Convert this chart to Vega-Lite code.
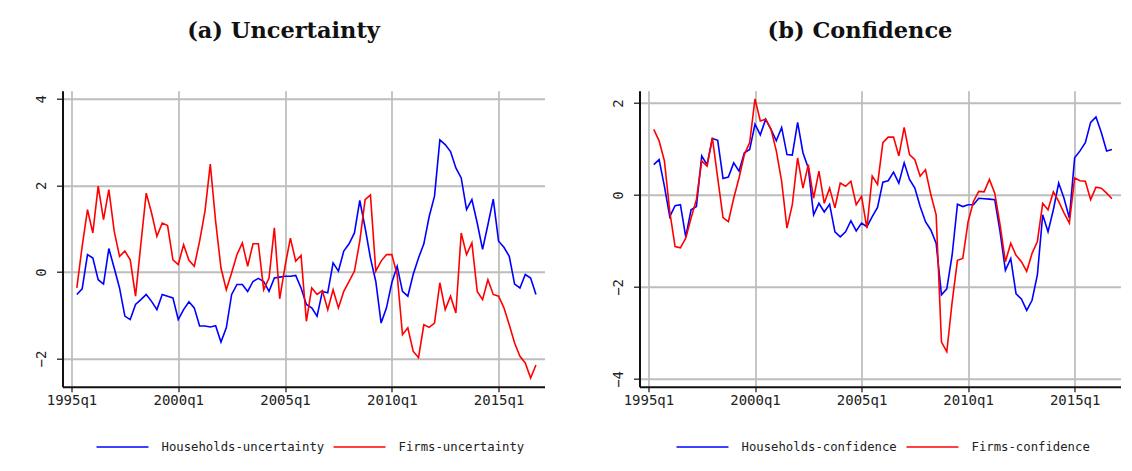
{
  "$schema": "https://vega.github.io/schema/vega-lite/v6.json",
  "background": "white",
  "padding": {"left": 34.5, "top": 18.7, "right": 0, "bottom": 0},
  "data": {"values": [
    {"t": 1995.25, "Households-uncertainty": -0.52, "Firms-uncertainty": -0.37, "Households-confidence": 0.66, "Firms-confidence": 1.43},
    {"t": 1995.5, "Households-uncertainty": -0.39, "Firms-uncertainty": 0.59, "Households-confidence": 0.77, "Firms-confidence": 1.18},
    {"t": 1995.75, "Households-uncertainty": 0.4, "Firms-uncertainty": 1.44, "Households-confidence": 0.19, "Firms-confidence": 0.74},
    {"t": 1996, "Households-uncertainty": 0.32, "Firms-uncertainty": 0.9, "Households-confidence": -0.47, "Firms-confidence": -0.36},
    {"t": 1996.25, "Households-uncertainty": -0.18, "Firms-uncertainty": 1.98, "Households-confidence": -0.23, "Firms-confidence": -1.12},
    {"t": 1996.5, "Households-uncertainty": -0.28, "Firms-uncertainty": 1.21, "Households-confidence": -0.21, "Firms-confidence": -1.15},
    {"t": 1996.75, "Households-uncertainty": 0.54, "Firms-uncertainty": 1.9, "Households-confidence": -0.91, "Firms-confidence": -0.94},
    {"t": 1997, "Households-uncertainty": 0.09, "Firms-uncertainty": 0.94, "Households-confidence": -0.32, "Firms-confidence": -0.5},
    {"t": 1997.25, "Households-uncertainty": -0.37, "Firms-uncertainty": 0.36, "Households-confidence": -0.25, "Firms-confidence": -0.1},
    {"t": 1997.5, "Households-uncertainty": -1.02, "Firms-uncertainty": 0.48, "Households-confidence": 0.85, "Firms-confidence": 0.74},
    {"t": 1997.75, "Households-uncertainty": -1.1, "Firms-uncertainty": 0.28, "Households-confidence": 0.66, "Firms-confidence": 0.63},
    {"t": 1998, "Households-uncertainty": -0.75, "Firms-uncertainty": -0.56, "Households-confidence": 1.23, "Firms-confidence": 1.25},
    {"t": 1998.25, "Households-uncertainty": -0.64, "Firms-uncertainty": 0.65, "Households-confidence": 1.19, "Firms-confidence": 0.37},
    {"t": 1998.5, "Households-uncertainty": -0.52, "Firms-uncertainty": 1.82, "Households-confidence": 0.36, "Firms-confidence": -0.49},
    {"t": 1998.75, "Households-uncertainty": -0.68, "Firms-uncertainty": 1.36, "Households-confidence": 0.39, "Firms-confidence": -0.58},
    {"t": 1999, "Households-uncertainty": -0.87, "Firms-uncertainty": 0.82, "Households-confidence": 0.7, "Firms-confidence": -0.07},
    {"t": 1999.25, "Households-uncertainty": -0.52, "Firms-uncertainty": 1.13, "Households-confidence": 0.52, "Firms-confidence": 0.37},
    {"t": 1999.5, "Households-uncertainty": -0.56, "Firms-uncertainty": 1.07, "Households-confidence": 0.92, "Firms-confidence": 0.88},
    {"t": 1999.75, "Households-uncertainty": -0.6, "Firms-uncertainty": 0.28, "Households-confidence": 0.99, "Firms-confidence": 1.14},
    {"t": 2000, "Households-uncertainty": -1.1, "Firms-uncertainty": 0.17, "Households-confidence": 1.54, "Firms-confidence": 2.09},
    {"t": 2000.25, "Households-uncertainty": -0.87, "Firms-uncertainty": 0.63, "Households-confidence": 1.31, "Firms-confidence": 1.61},
    {"t": 2000.5, "Households-uncertainty": -0.69, "Firms-uncertainty": 0.27, "Households-confidence": 1.65, "Firms-confidence": 1.65},
    {"t": 2000.75, "Households-uncertainty": -0.83, "Firms-uncertainty": 0.13, "Households-confidence": 1.43, "Firms-confidence": 1.43},
    {"t": 2001, "Households-uncertainty": -1.25, "Firms-uncertainty": 0.71, "Households-confidence": 1.18, "Firms-confidence": 0.96},
    {"t": 2001.25, "Households-uncertainty": -1.25, "Firms-uncertainty": 1.4, "Households-confidence": 1.47, "Firms-confidence": 0.3},
    {"t": 2001.5, "Households-uncertainty": -1.27, "Firms-uncertainty": 2.49, "Households-confidence": 0.88, "Firms-confidence": -0.72},
    {"t": 2001.75, "Households-uncertainty": -1.24, "Firms-uncertainty": 1.17, "Households-confidence": 0.87, "Firms-confidence": -0.21},
    {"t": 2002, "Households-uncertainty": -1.62, "Firms-uncertainty": 0.09, "Households-confidence": 1.58, "Firms-confidence": 0.81},
    {"t": 2002.25, "Households-uncertainty": -1.29, "Firms-uncertainty": -0.41, "Households-confidence": 0.92, "Firms-confidence": 0.15},
    {"t": 2002.5, "Households-uncertainty": -0.52, "Firms-uncertainty": -0.02, "Households-confidence": 0.59, "Firms-confidence": 0.66},
    {"t": 2002.75, "Households-uncertainty": -0.29, "Firms-uncertainty": 0.4, "Households-confidence": -0.43, "Firms-confidence": -0.07},
    {"t": 2003, "Households-uncertainty": -0.29, "Firms-uncertainty": 0.67, "Households-confidence": -0.18, "Firms-confidence": 0.52},
    {"t": 2003.25, "Households-uncertainty": -0.45, "Firms-uncertainty": 0.13, "Households-confidence": -0.37, "Firms-confidence": -0.18},
    {"t": 2003.5, "Households-uncertainty": -0.22, "Firms-uncertainty": 0.65, "Households-confidence": -0.2, "Firms-confidence": 0.15},
    {"t": 2003.75, "Households-uncertainty": -0.15, "Firms-uncertainty": 0.65, "Households-confidence": -0.8, "Firms-confidence": -0.28},
    {"t": 2004, "Households-uncertainty": -0.22, "Firms-uncertainty": -0.41, "Households-confidence": -0.91, "Firms-confidence": 0.26},
    {"t": 2004.25, "Households-uncertainty": -0.45, "Firms-uncertainty": -0.14, "Households-confidence": -0.8, "Firms-confidence": 0.19},
    {"t": 2004.5, "Households-uncertainty": -0.14, "Firms-uncertainty": 1.02, "Households-confidence": -0.56, "Firms-confidence": 0.3},
    {"t": 2004.75, "Households-uncertainty": -0.12, "Firms-uncertainty": -0.62, "Households-confidence": -0.78, "Firms-confidence": -0.21},
    {"t": 2005, "Households-uncertainty": -0.1, "Firms-uncertainty": 0.13, "Households-confidence": -0.61, "Firms-confidence": -0.03},
    {"t": 2005.25, "Households-uncertainty": -0.1, "Firms-uncertainty": 0.78, "Households-confidence": -0.69, "Firms-confidence": -0.72},
    {"t": 2005.5, "Households-uncertainty": -0.08, "Firms-uncertainty": 0.25, "Households-confidence": -0.47, "Firms-confidence": 0.41},
    {"t": 2005.75, "Households-uncertainty": -0.37, "Firms-uncertainty": 0.38, "Households-confidence": -0.27, "Firms-confidence": 0.23},
    {"t": 2006, "Households-uncertainty": -0.75, "Firms-uncertainty": -1.14, "Households-confidence": 0.28, "Firms-confidence": 1.14},
    {"t": 2006.25, "Households-uncertainty": -0.83, "Firms-uncertainty": -0.37, "Households-confidence": 0.31, "Firms-confidence": 1.26},
    {"t": 2006.5, "Households-uncertainty": -1.02, "Firms-uncertainty": -0.52, "Households-confidence": 0.5, "Firms-confidence": 1.26},
    {"t": 2006.75, "Households-uncertainty": -0.45, "Firms-uncertainty": -0.43, "Households-confidence": 0.26, "Firms-confidence": 0.85},
    {"t": 2007, "Households-uncertainty": -0.48, "Firms-uncertainty": -0.87, "Households-confidence": 0.7, "Firms-confidence": 1.47},
    {"t": 2007.25, "Households-uncertainty": 0.21, "Firms-uncertainty": -0.41, "Households-confidence": 0.34, "Firms-confidence": 0.88},
    {"t": 2007.5, "Households-uncertainty": 0.02, "Firms-uncertainty": -0.83, "Households-confidence": 0.15, "Firms-confidence": 0.77},
    {"t": 2007.75, "Households-uncertainty": 0.48, "Firms-uncertainty": -0.45, "Households-confidence": -0.25, "Firms-confidence": 0.41},
    {"t": 2008, "Households-uncertainty": 0.65, "Firms-uncertainty": -0.22, "Households-confidence": -0.58, "Firms-confidence": 0.55},
    {"t": 2008.25, "Households-uncertainty": 0.9, "Firms-uncertainty": 0.02, "Households-confidence": -0.76, "Firms-confidence": 0.01},
    {"t": 2008.5, "Households-uncertainty": 1.65, "Firms-uncertainty": 0.71, "Households-confidence": -1.05, "Firms-confidence": -0.43},
    {"t": 2008.75, "Households-uncertainty": 1.02, "Firms-uncertainty": 1.67, "Households-confidence": -2.17, "Firms-confidence": -3.2},
    {"t": 2009, "Households-uncertainty": 0.32, "Firms-uncertainty": 1.78, "Households-confidence": -2.04, "Firms-confidence": -3.41},
    {"t": 2009.25, "Households-uncertainty": -0.22, "Firms-uncertainty": 0.02, "Households-confidence": -1.31, "Firms-confidence": -2.33},
    {"t": 2009.5, "Households-uncertainty": -1.18, "Firms-uncertainty": 0.25, "Households-confidence": -0.2, "Firms-confidence": -1.42},
    {"t": 2009.75, "Households-uncertainty": -0.83, "Firms-uncertainty": 0.4, "Households-confidence": -0.25, "Firms-confidence": -1.38},
    {"t": 2010, "Households-uncertainty": -0.25, "Firms-uncertainty": 0.4, "Households-confidence": -0.21, "Firms-confidence": -0.58},
    {"t": 2010.25, "Households-uncertainty": 0.13, "Firms-uncertainty": -0.06, "Households-confidence": -0.21, "Firms-confidence": -0.14},
    {"t": 2010.5, "Households-uncertainty": -0.45, "Firms-uncertainty": -1.45, "Households-confidence": -0.07, "Firms-confidence": 0.08},
    {"t": 2010.75, "Households-uncertainty": -0.56, "Firms-uncertainty": -1.29, "Households-confidence": -0.08, "Firms-confidence": 0.07},
    {"t": 2011, "Households-uncertainty": -0.06, "Firms-uncertainty": -1.83, "Households-confidence": -0.09, "Firms-confidence": 0.34},
    {"t": 2011.25, "Households-uncertainty": 0.32, "Firms-uncertainty": -1.98, "Households-confidence": -0.1, "Firms-confidence": 0.04},
    {"t": 2011.5, "Households-uncertainty": 0.65, "Firms-uncertainty": -1.22, "Households-confidence": -0.8, "Firms-confidence": -0.65},
    {"t": 2011.75, "Households-uncertainty": 1.28, "Firms-uncertainty": -1.28, "Households-confidence": -1.64, "Firms-confidence": -1.45},
    {"t": 2012, "Households-uncertainty": 1.75, "Firms-uncertainty": -1.18, "Households-confidence": -1.38, "Firms-confidence": -1.05},
    {"t": 2012.25, "Households-uncertainty": 3.05, "Firms-uncertainty": -0.25, "Households-confidence": -2.15, "Firms-confidence": -1.31},
    {"t": 2012.5, "Households-uncertainty": 2.94, "Firms-uncertainty": -0.87, "Households-confidence": -2.26, "Firms-confidence": -1.45},
    {"t": 2012.75, "Households-uncertainty": 2.78, "Firms-uncertainty": -0.56, "Households-confidence": -2.51, "Firms-confidence": -1.66},
    {"t": 2013, "Households-uncertainty": 2.4, "Firms-uncertainty": -0.95, "Households-confidence": -2.29, "Firms-confidence": -1.27},
    {"t": 2013.25, "Households-uncertainty": 2.17, "Firms-uncertainty": 0.9, "Households-confidence": -1.74, "Firms-confidence": -1.01},
    {"t": 2013.5, "Households-uncertainty": 1.44, "Firms-uncertainty": 0.4, "Households-confidence": -0.43, "Firms-confidence": -0.18},
    {"t": 2013.75, "Households-uncertainty": 1.67, "Firms-uncertainty": 0.67, "Households-confidence": -0.8, "Firms-confidence": -0.32},
    {"t": 2014, "Households-uncertainty": 1.13, "Firms-uncertainty": -0.45, "Households-confidence": -0.32, "Firms-confidence": 0.07},
    {"t": 2014.25, "Households-uncertainty": 0.52, "Firms-uncertainty": -0.64, "Households-confidence": 0.26, "Firms-confidence": -0.14},
    {"t": 2014.5, "Households-uncertainty": 1.09, "Firms-uncertainty": -0.18, "Households-confidence": -0.07, "Firms-confidence": -0.39},
    {"t": 2014.75, "Households-uncertainty": 1.68, "Firms-uncertainty": -0.52, "Households-confidence": -0.5, "Firms-confidence": -0.61},
    {"t": 2015, "Households-uncertainty": 0.71, "Firms-uncertainty": -0.56, "Households-confidence": 0.81, "Firms-confidence": 0.37},
    {"t": 2015.25, "Households-uncertainty": 0.57, "Firms-uncertainty": -0.83, "Households-confidence": 0.96, "Firms-confidence": 0.31},
    {"t": 2015.5, "Households-uncertainty": 0.36, "Firms-uncertainty": -1.22, "Households-confidence": 1.14, "Firms-confidence": 0.3},
    {"t": 2015.75, "Households-uncertainty": -0.28, "Firms-uncertainty": -1.64, "Households-confidence": 1.58, "Firms-confidence": -0.1},
    {"t": 2016, "Households-uncertainty": -0.37, "Firms-uncertainty": -1.95, "Households-confidence": 1.7, "Firms-confidence": 0.17},
    {"t": 2016.25, "Households-uncertainty": -0.06, "Firms-uncertainty": -2.1, "Households-confidence": 1.36, "Firms-confidence": 0.15},
    {"t": 2016.5, "Households-uncertainty": -0.14, "Firms-uncertainty": -2.45, "Households-confidence": 0.96, "Firms-confidence": 0.04},
    {"t": 2016.75, "Households-uncertainty": -0.52, "Firms-uncertainty": -2.15, "Households-confidence": 0.99, "Firms-confidence": -0.08}
  ]},
  "hconcat": [
    {
      "width": 482,
      "height": 296,
      "title": {"text": "(a) Uncertainty", "dx": -20, "offset": 48.6},
      "transform": [{"fold": ["Households-uncertainty", "Firms-uncertainty"], "as": ["series", "value"]}],
      "mark": {"type": "line", "strokeWidth": 1.6},
      "encoding": {
        "x": {"field": "t", "type": "quantitative", "scale": {"domain": [1994.58, 2017.15], "nice": false, "zero": false},
              "axis": {"values": [1995, 2000, 2005, 2010, 2015], "labelExpr": "datum.value + 'q1'"}},
        "y": {"field": "value", "type": "quantitative", "scale": {"domain": [-2.65, 4.185], "nice": false, "zero": false},
              "axis": {"values": [-2, 0, 2, 4]}},
        "color": {"field": "series", "type": "nominal",
                  "scale": {"domain": ["Households-uncertainty", "Firms-uncertainty"], "range": ["#0000ff", "#ff0000"]},
                  "legend": {"legendX": 33, "legendY": 329}}
      }
    },
    {
      "width": 481,
      "height": 296,
      "title": {"text": "(b) Confidence", "dx": -20, "offset": 48.6},
      "transform": [{"fold": ["Households-confidence", "Firms-confidence"], "as": ["series", "value"]}],
      "mark": {"type": "line", "strokeWidth": 1.6},
      "encoding": {
        "x": {"field": "t", "type": "quantitative", "scale": {"domain": [1994.58, 2017.15], "nice": false, "zero": false},
              "axis": {"values": [1995, 2000, 2005, 2010, 2015], "labelExpr": "datum.value + 'q1'"}},
        "y": {"field": "value", "type": "quantitative", "scale": {"domain": [-4.17, 2.27], "nice": false, "zero": false},
              "axis": {"values": [-4, -2, 0, 2]}},
        "color": {"field": "series", "type": "nominal",
                  "scale": {"domain": ["Households-confidence", "Firms-confidence"], "range": ["#0000ff", "#ff0000"]},
                  "legend": {"legendX": 36, "legendY": 329}}
      }
    }
  ],
  "spacing": 95,
  "bounds": "flush",
  "resolve": {"scale": {"color": "independent", "y": "independent"}, "legend": {"color": "independent"}},
  "config": {
    "view": {"stroke": null},
    "title": {"font": "DejaVu Serif", "fontSize": 22.5, "fontWeight": "bold", "color": "#111", "anchor": "middle", "baseline": "alphabetic", "frame": "group"},
    "axis": {"title": null, "domainColor": "#111", "domainWidth": 2, "tickColor": "#111", "tickWidth": 1.2,
             "labelFont": "DejaVu Sans Mono", "labelFontSize": 14, "labelColor": "#222"},
    "axisX": {"grid": true, "gridColor": "#8c8c8c", "gridWidth": 1, "tickSize": 5, "labelPadding": 1.5},
    "axisY": {"grid": true, "gridColor": "#bdbdbd", "gridWidth": 2, "tickSize": 6, "labelPadding": 8, "labelAngle": 270},
    "legend": {"orient": "none", "direction": "horizontal", "title": null, "symbolType": "stroke", "symbolSize": 2700,
               "symbolStrokeWidth": 1.6, "labelFont": "DejaVu Sans Mono", "labelFontSize": 12.3, "labelColor": "#222",
               "labelOffset": 12, "columnPadding": 5, "labelLimit": 0}
  }
}
